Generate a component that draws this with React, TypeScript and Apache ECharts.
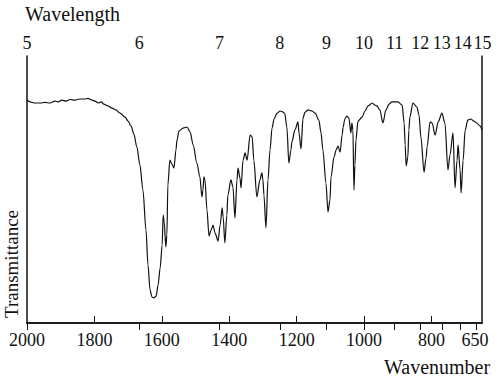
import React, { useEffect, useRef } from "react";
import * as echarts from "echarts";

// Spectrum: wavenumber (cm-1) and transmittance (arbitrary 0..100)
const wavenumbers = [
  2000, 1991, 1976, 1961, 1947, 1932, 1917, 1908, 1896, 1884, 1872, 1858, 1843, 1828, 1819, 1807,
  1798, 1789, 1780, 1772, 1760, 1748, 1736, 1724, 1709, 1700, 1691, 1683, 1674, 1665, 1656, 1647,
  1641, 1635, 1629, 1623, 1617, 1611, 1605, 1599, 1596, 1593, 1588, 1585, 1582, 1576, 1570, 1564,
  1558, 1555, 1549, 1537, 1525, 1516, 1507, 1496, 1487, 1481, 1478, 1475, 1472, 1466, 1460, 1454,
  1448, 1442, 1433, 1427, 1421, 1418, 1413, 1407, 1404, 1395, 1389, 1383, 1377, 1374, 1368, 1365,
  1359, 1353, 1347, 1338, 1332, 1327, 1318, 1309, 1303, 1300, 1297, 1291, 1285, 1279, 1273, 1267,
  1258, 1249, 1240, 1235, 1229, 1223, 1217, 1214, 1205, 1196, 1193, 1187, 1181, 1175, 1166, 1154,
  1145, 1134, 1128, 1122, 1113, 1107, 1101, 1098, 1089, 1083, 1077, 1071, 1065, 1062, 1057, 1051,
  1045, 1039, 1036, 1033, 1030, 1027, 1024, 1018, 1006, 997, 988, 976, 967, 962, 953, 944,
  935, 926, 917, 899, 887, 881, 878, 875, 870, 867, 864, 855, 843, 837, 831, 822,
  816, 813, 804, 798, 789, 780, 769, 760, 751, 745, 736, 730, 724, 721, 715, 712,
  706, 700, 692, 683, 674, 665, 656, 650,
];
const transmittance = [
  83.5, 82.8, 82.4, 82.4, 82.6, 82.4, 83.1, 82.8, 83.5, 83.1, 83.7, 83.5, 83.9, 83.9, 84.1, 83.5,
  83.1, 82.4, 82.8, 82.0, 81.3, 80.5, 79.8, 78.6, 77.1, 75.6, 73.7, 70.8, 65.9, 59.2, 49.8, 34.8,
  21.7, 12.4, 9.7, 9.4, 10.1, 14.2, 20.6, 29.2, 40.4, 37.8, 28.5, 33.0, 51.7, 61.0, 59.5, 58.0,
  64.8, 68.5, 71.9, 73.0, 73.4, 71.5, 66.7, 59.9, 54.7, 47.2, 49.8, 54.7, 53.6, 42.3, 32.6, 34.8,
  36.7, 33.7, 30.7, 36.7, 43.1, 39.7, 30.0, 40.4, 47.9, 53.6, 50.9, 39.3, 53.6, 58.0, 54.3, 50.6,
  61.0, 63.7, 61.0, 70.4, 69.7, 61.0, 47.2, 53.6, 56.2, 53.6, 47.9, 35.6, 53.6, 64.8, 73.0, 76.4,
  78.6, 79.4, 79.0, 78.3, 73.4, 59.9, 64.8, 67.8, 72.3, 75.3, 71.2, 65.2, 76.8, 79.0, 79.8, 79.4,
  78.6, 76.0, 71.5, 64.8, 52.4, 41.6, 46.1, 54.7, 62.2, 64.8, 66.3, 64.0, 70.4, 73.4, 76.4, 77.5,
  76.8, 71.2, 74.9, 72.3, 49.8, 59.2, 68.5, 75.6, 77.1, 79.4, 81.3, 82.4, 81.6, 81.3, 79.8, 74.9,
  79.8, 82.0, 82.8, 82.8, 81.6, 74.9, 66.7, 58.8, 62.2, 72.3, 77.1, 82.4, 80.9, 77.9, 69.3, 56.5,
  61.8, 65.9, 75.3, 74.9, 70.4, 75.3, 78.6, 74.9, 57.3, 62.9, 71.2, 50.6, 61.0, 66.7, 57.3, 48.7,
  61.0, 72.3, 76.0, 76.4, 75.6, 74.9, 73.8, 72.3,
];

const wavenumberTicks = [2000, 1800, 1600, 1400, 1200, 1000, 800, 650];
const wavenumberInnerTicks = [1800, 1600, 1400, 1200, 1000, 800];
const wavelengthTicks = [5, 6, 7, 8, 9, 10, 11, 12, 13, 14, 15];

const FONT = "'Liberation Serif', 'DejaVu Serif', serif";
const INK = "#111";

export default function App() {
  const ref = useRef<HTMLDivElement>(null);

  useEffect(() => {
    if (!ref.current) return;
    const chart = echarts.init(ref.current, undefined, { renderer: "svg" });
    const data = wavenumbers.map((w, i) => [w, transmittance[i]]);
    const topValues = wavelengthTicks.map((l) => 10000 / l);

    chart.setOption({
      animation: false,
      backgroundColor: "#fff",
      grid: { left: 27, right: 18, top: 56, bottom: 60, containLabel: false },
      xAxis: [
        {
          type: "value",
          position: "bottom",
          min: 650,
          max: 2000,
          inverse: true,
          axisLine: { show: true, lineStyle: { color: INK, width: 1.5 } },
          axisTick: {
            show: true,
            inside: true,
            length: 7,
            customValues: wavenumberInnerTicks,
            lineStyle: { color: INK, width: 1 },
          },
          axisLabel: {
            show: true,
            customValues: wavenumberTicks,
            margin: 8,
            fontFamily: FONT,
            fontSize: 18,
            color: INK,
            formatter: (v: number) => (v === 650 ? "{s|650}" : String(v)),
            rich: { s: { fontFamily: FONT, fontSize: 18, color: INK, padding: [0, 14, 0, 0] } },
          },
          splitLine: { show: false },
        },
        {
          type: "value",
          position: "top",
          min: 650,
          max: 2000,
          inverse: true,
          axisLine: { show: true, lineStyle: { color: INK, width: 1.5 } },
          axisTick: {
            show: true,
            inside: true,
            length: 7,
            customValues: topValues,
            lineStyle: { color: INK, width: 1 },
          },
          axisLabel: {
            show: true,
            customValues: topValues,
            margin: 4,
            fontFamily: FONT,
            fontSize: 18,
            color: INK,
            formatter: (v: number) => {
              const l = Math.round(10000 / v);
              if (l === 15) return "{r|15}";
              if (l === 14) return "{q|14}";
              return String(l);
            },
            rich: {
              r: { fontFamily: FONT, fontSize: 18, color: INK, padding: [0, 0, 0, 12] },
              q: { fontFamily: FONT, fontSize: 18, color: INK, padding: [0, 0, 0, 5] },
            },
          },
          splitLine: { show: false },
        },
      ],
      yAxis: [
        {
          type: "value",
          position: "left",
          min: 0,
          max: 100,
          axisLine: { show: true, lineStyle: { color: INK, width: 1.5 } },
          axisTick: { show: false },
          axisLabel: { show: false },
          splitLine: { show: false },
        },
        {
          type: "value",
          position: "right",
          min: 0,
          max: 100,
          axisLine: { show: true, lineStyle: { color: INK, width: 1.5 } },
          axisTick: { show: false },
          axisLabel: { show: false },
          splitLine: { show: false },
        },
      ],
      series: [
        {
          type: "line",
          xAxisIndex: 0,
          yAxisIndex: 0,
          data,
          showSymbol: false,
          smooth: 0.3,
          smoothMonotone: "x",
          lineStyle: { color: INK, width: 1.2 },
          silent: true,
        },
      ],
      graphic: [
        {
          type: "text",
          left: 25,
          top: 4,
          style: { text: "Wavelength", font: `20px ${FONT}`, fill: INK },
        },
        {
          type: "text",
          left: 384,
          top: 357,
          style: { text: "Wavenumber", font: `20px ${FONT}`, fill: INK },
        },
        {
          type: "text",
          x: 11,
          y: 264,
          rotation: Math.PI / 2,
          style: {
            text: "Transmittance",
            font: `19px ${FONT}`,
            fill: INK,
            align: "center",
            verticalAlign: "middle",
          },
        },
      ],
    });

    return () => chart.dispose();
  }, []);

  return (
    <div
      ref={ref}
      style={{ position: "absolute", left: 0, top: 0, width: 500, height: 383 }}
    />
  );
}
